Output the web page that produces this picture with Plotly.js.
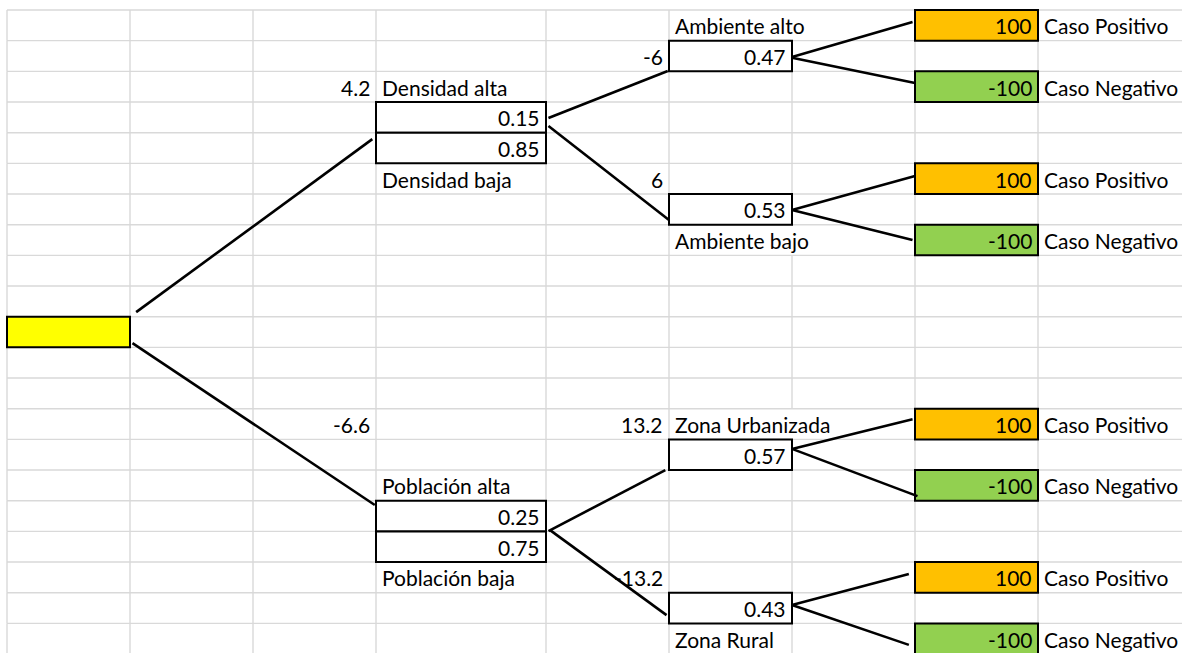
<!DOCTYPE html>
<html>
<head>
<meta charset="utf-8">
<script src="https://cdn.plot.ly/plotly-3.0.1.min.js"></script>
<style>
  html, body { margin: 0; padding: 0; background: #ffffff; }
  #chart { width: 1182px; height: 653px; }
</style>
</head>
<body>
<div id="chart"></div>
<script>
// ---------------- DATA (spreadsheet cell addresses: column index, row index) ----------------
// Root decision cell
const rootCol = 0;
const rootRow = 10;

// Probability boxes
const probLabels = ['0.47', '0.53', '0.15', '0.85', '0.25', '0.75', '0.57', '0.43'];
const probCols   = [5, 5, 3, 3, 3, 3, 5, 5];
const probRows   = [1, 6, 3, 4, 16, 17, 14, 19];

// Terminal payoffs
const payoffValues = [100, -100, 100, -100, 100, -100, 100, -100];
const payoffNames  = ['Caso Positivo', 'Caso Negativo', 'Caso Positivo', 'Caso Negativo',
                      'Caso Positivo', 'Caso Negativo', 'Caso Positivo', 'Caso Negativo'];
const payoffRows   = [0, 2, 5, 7, 13, 15, 18, 20];
const payoffCol    = 7;

// Expected values (right aligned in their cell)
const evLabels = ['4.2', '-6', '6', '-6.6', '13.2', '-13.2'];
const evCols   = [2, 4, 4, 2, 4, 4];
const evRows   = [2, 1, 5, 13, 13, 18];

// Branch names (left aligned in their cell)
const branchNames = ['Densidad alta', 'Densidad baja', 'Ambiente alto', 'Ambiente bajo',
                     'Población alta', 'Población baja', 'Zona Urbanizada', 'Zona Rural'];
const branchCols  = [3, 3, 5, 5, 3, 3, 5, 5];
const branchRows  = [2, 5, 0, 7, 15, 18, 13, 20];

// Connector lines: [fromCol, fromRow, toCol, toRow] in fractional cell units
const edges = [
  [1.05, 9.85, 2.97, 4.21],
  [1.02, 10.86, 2.99, 16.14],
  [4.02, 3.52, 4.99, 1.99],
  [4.02, 3.78, 5.00, 6.85],
  [6.00, 1.53, 6.98, 0.39],
  [6.00, 1.56, 7.00, 2.38],
  [6.00, 6.52, 7.00, 5.41],
  [6.00, 6.52, 6.98, 7.50],
  [4.02, 16.99, 4.97, 15.00],
  [4.03, 16.95, 4.98, 19.73],
  [6.00, 14.31, 6.98, 13.34],
  [6.00, 14.31, 7.02, 15.85],
  [6.00, 19.40, 6.95, 18.39],
  [6.00, 19.40, 6.95, 20.70]
];

// ---------------- STYLE / GEOMETRY ----------------
const W = 1182, H = 653;
const colWidths = [123, 123, 123, 170, 123, 123, 123, 123, 144];
const originX = 7, originY = 10, rowH = 30.67, nRows = 21;
const gridColor = '#d9d9d9';
const FONT = 'Lato, "Open Sans", "DejaVu Sans", sans-serif';
const FSIZE = 21;
// grid segments hidden by overflowing text: [edgeIndex, row]
const hiddenV = [[6, 0], [6, 7], [6, 13]];

function colX(c) {
  const i = Math.floor(c);
  let x = originX;
  for (let k = 0; k < i && k < colWidths.length; k++) x += colWidths[k];
  const f = c - i;
  if (f > 0 && i < colWidths.length) x += f * colWidths[i];
  return x;
}
function rowY(r) { return originY + r * rowH; }

const shapes = [];
const annotations = [];

// gridlines - horizontal
for (let r = 0; r <= nRows; r++) {
  shapes.push({type: 'line', xref: 'x', yref: 'y', x0: originX, x1: W, y0: rowY(r), y1: rowY(r),
    line: {color: gridColor, width: 1.4}, layer: 'below'});
}
// gridlines - vertical
for (let e = 0; e < colWidths.length; e++) {
  for (let r = 0; r < nRows; r++) {
    if (hiddenV.some(h => h[0] === e && h[1] === r)) continue;
    shapes.push({type: 'line', xref: 'x', yref: 'y', x0: colX(e), x1: colX(e), y0: rowY(r), y1: rowY(r + 1),
      line: {color: gridColor, width: 1.4}, layer: 'below'});
  }
}

function cellBox(c, r, fill) {
  shapes.push({type: 'rect', xref: 'x', yref: 'y', x0: colX(c), x1: colX(c + 1), y0: rowY(r), y1: rowY(r + 1),
    fillcolor: fill, line: {color: '#000000', width: 2}});
}
function cellText(c, r, text, align) {
  const y = rowY(r) + rowH / 2 + 0.5;
  const x = align === 'right' ? colX(c + 1) - 4 : colX(c) + 4;
  annotations.push({xref: 'x', yref: 'y', x: x, y: y, text: text, showarrow: false,
    xanchor: align, yanchor: 'middle', font: {family: FONT, size: FSIZE, color: '#000000'}});
}

// root
cellBox(rootCol, rootRow, '#ffff00');
// probability boxes
probLabels.forEach((p, i) => { cellBox(probCols[i], probRows[i], '#ffffff'); cellText(probCols[i], probRows[i], p, 'right'); });
// payoffs
payoffValues.forEach((v, i) => {
  cellBox(payoffCol, payoffRows[i], v > 0 ? '#ffc000' : '#92d050');
  cellText(payoffCol, payoffRows[i], String(v), 'right');
  cellText(payoffCol + 1, payoffRows[i], payoffNames[i], 'left');
});
// expected values
evLabels.forEach((v, i) => cellText(evCols[i], evRows[i], v, 'right'));
// branch names
branchNames.forEach((b, i) => cellText(branchCols[i], branchRows[i], b, 'left'));
// connectors
edges.forEach(e => {
  shapes.push({type: 'line', xref: 'x', yref: 'y', x0: colX(e[0]), y0: rowY(e[1]), x1: colX(e[2]), y1: rowY(e[3]),
    line: {color: '#000000', width: 2.6}});
});

const layout = {
  width: W, height: H,
  margin: {l: 0, r: 0, t: 0, b: 0, pad: 0},
  paper_bgcolor: '#ffffff', plot_bgcolor: '#ffffff',
  showlegend: false,
  xaxis: {range: [0, W], visible: false, fixedrange: true},
  yaxis: {range: [H, 0], visible: false, fixedrange: true},
  shapes: shapes,
  annotations: annotations
};

Plotly.newPlot('chart', [{x: [], y: [], type: 'scatter', mode: 'markers', hoverinfo: 'skip'}], layout,
  {staticPlot: true, displayModeBar: false});
</script>
</body>
</html>
